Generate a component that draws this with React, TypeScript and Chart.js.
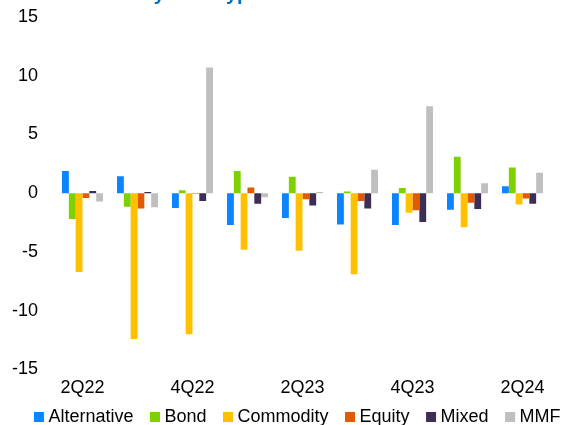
import React, { useEffect, useRef } from 'react';
import { Chart, registerables } from 'chart.js';

Chart.register(...registerables);

const categories = ['2Q22', '3Q22', '4Q22', '1Q23', '2Q23', '3Q23', '4Q23', '1Q24', '2Q24'];
const alternative = [1.9, 1.45, -1.25, -2.7, -2.1, -2.65, -2.7, -1.4, 0.6];
const bond = [-2.2, -1.15, 0.25, 1.9, 1.4, 0.15, 0.45, 3.1, 2.2];
const commodity = [-6.7, -12.4, -12.0, -4.8, -4.9, -6.9, -1.65, -2.9, -0.95];
const equity = [-0.4, -1.3, -0.05, 0.5, -0.5, -0.65, -1.45, -0.8, -0.45];
const mixed = [0.2, 0.1, -0.65, -0.9, -1.05, -1.3, -2.45, -1.35, -0.9];
const mmf = [-0.7, -1.2, 10.7, -0.35, 0.1, 2.0, 7.4, 0.85, 1.75];

const seriesNames = ['Alternative', 'Bond', 'Commodity', 'Equity', 'Mixed', 'MMF'];
const seriesColors = ['#0A84FF', '#7ED000', '#FFC000', '#E05A00', '#3E2D55', '#BFBFBF'];
const yTicks = [-15, -10, -5, 0, 5, 10, 15];
const titleText = 'Net flows by fund type';

const FONT_FAMILY = "'Liberation Sans', Arial, sans-serif";

export default function App() {
  const ref = useRef<HTMLCanvasElement>(null);

  useEffect(() => {
    const series = [alternative, bond, commodity, equity, mixed, mmf];
    const font = { family: FONT_FAMILY, size: 18 };
    const chart = new Chart(ref.current as HTMLCanvasElement, {
      type: 'bar',
      data: {
        labels: categories,
        datasets: series.map((d, i) => ({
          label: seriesNames[i],
          data: d,
          backgroundColor: seriesColors[i],
          borderWidth: 0,
          categoryPercentage: 0.745,
          barPercentage: 1,
        })),
      },
      options: {
        responsive: false,
        animation: false,
        devicePixelRatio: 1,
        layout: { padding: { top: 17, left: 0, right: 0, bottom: 0 } },
        plugins: {
          title: { display: false },
          tooltip: { enabled: false },
          legend: {
            position: 'bottom',
            align: 'center',
            labels: {
              usePointStyle: true,
              pointStyle: 'rect',
              boxWidth: 1,
              boxHeight: 10,
              padding: 21,
              color: '#000',
              font,
            },
          },
        },
        scales: {
          x: {
            grid: { display: false, drawTicks: false },
            border: { display: false },
            ticks: {
              autoSkip: false,
              maxRotation: 0,
              minRotation: 0,
              mirror: true,
              padding: -29,
              color: '#000',
              font,
              callback: (_v: any, i: number) => (i % 2 === 0 ? categories[i] : ''),
            },
            afterFit: (s: any) => {
              s.height = 17.5;
              s.paddingLeft = 0;
              s.paddingRight = 0;
            },
          },
          y: {
            min: -15,
            max: 15,
            afterBuildTicks: (s: any) => {
              s.ticks = yTicks.map((v) => ({ value: v }));
            },
            grid: { display: false, drawTicks: false },
            border: { display: false },
            ticks: { padding: 17, color: '#000', font },
            afterFit: (s: any) => {
              s.width = 55;
              s.paddingTop = 0;
              s.paddingBottom = 0;
            },
          },
          yr: {
            position: 'right',
            display: true,
            grid: { display: false, drawTicks: false },
            border: { display: false },
            ticks: { display: false },
            afterFit: (s: any) => {
              s.width = 49;
              s.paddingTop = 0;
              s.paddingBottom = 0;
            },
          },
        },
      } as any,
    });
    return () => chart.destroy();
  }, []);

  return (
    <div
      style={{
        position: 'fixed',
        left: 0,
        top: 0,
        width: 561,
        height: 425,
        overflow: 'hidden',
        background: '#fff',
      }}
    >
      <div
        style={{
          position: 'absolute',
          left: 47,
          top: -17,
          fontFamily: FONT_FAMILY,
          fontWeight: 'bold',
          fontSize: 20,
          lineHeight: '20px',
          color: '#0070C0',
          whiteSpace: 'nowrap',
        }}
      >
        {titleText}
      </div>
      <canvas ref={ref} width={599} height={436} style={{ display: 'block' }} />
    </div>
  );
}
